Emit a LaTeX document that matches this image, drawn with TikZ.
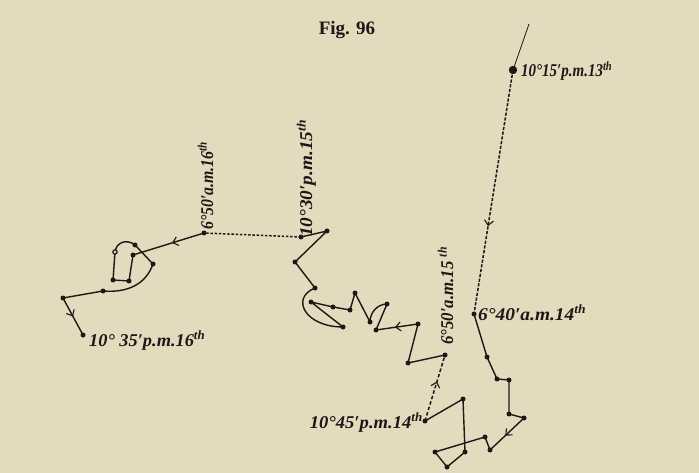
\documentclass[tikz,border=0pt]{standalone}
\usepackage{fontspec}
\setmainfont{Liberation Serif}
\usepackage{graphicx}
\usetikzlibrary{decorations.markings,arrows.meta}
\definecolor{paper}{RGB}{228,218,190}
\definecolor{ink}{RGB}{28,24,22}
\newcommand{\lbl}[2]{\resizebox{#1}{\height}{#2}}
\begin{document}
\begin{tikzpicture}[x=1pt,y=-1pt,
  trail/.style={draw=ink,line width=1.4pt,line join=round,line cap=round},
  dashtrail/.style={draw=ink,line width=1.5pt,dash pattern=on 3.2pt off 1.6pt},
  midarrow/.style={postaction={decorate,decoration={markings,
      mark=at position #1 with {\arrow{Straight Barb[length=5pt,width=9pt,line width=1.1pt]}}}}},
  lab/.style={font=\fontsize{18}{20}\selectfont\bfseries\itshape,text=ink,inner sep=0pt},
  vlab/.style={lab,rotate=90,anchor=base west}]
\useasboundingbox (0,0) rectangle (699,473);
\fill[paper] (0,0) rectangle (699,473);

% title
\node[font=\fontsize{19}{21}\selectfont\bfseries,text=ink,anchor=base,inner sep=0pt] (title) at (347,35) {Fig. 96};

% points, first day
\coordinate (t0) at (529,24);
\coordinate (a1) at (513,70);
\coordinate (a2) at (474,314);
\coordinate (a3) at (487,357);
\coordinate (a4) at (497,379);
\coordinate (a5) at (509,380);
\coordinate (a6) at (509,414);
\coordinate (a7) at (524,418);
\coordinate (a8) at (490,450);
\coordinate (a9) at (485,437);
\coordinate (a10) at (435,452);
\coordinate (a11) at (447,467);
\coordinate (a12) at (465,452);
\coordinate (a13) at (463,399);
\coordinate (a14) at (425,421);
% second part
\coordinate (b1) at (445,355);
\coordinate (b2) at (408,363);
\coordinate (b3) at (418,324);
\coordinate (b4) at (376,330);
\coordinate (b5) at (387,304);
\coordinate (b6) at (370,322);
\coordinate (b7) at (355,293);
\coordinate (b8) at (350,310);
\coordinate (b9) at (333,307);
\coordinate (b10) at (311,302);
\coordinate (b11) at (343,327);
\coordinate (b12) at (315,288);
\coordinate (b13) at (295,262);
\coordinate (b14) at (327,231);
\coordinate (b15) at (301,237);
% third part
\coordinate (c1) at (204,233);
\coordinate (c2) at (133,255);
\coordinate (c3) at (129,281);
\coordinate (c4) at (113,280);
\coordinate (c5) at (115,252);
\coordinate (c6) at (135,245);
\coordinate (c7) at (153,264);
\coordinate (c8) at (103,291);
\coordinate (c9) at (63,298);
\coordinate (c10) at (83,335);

% track
\draw[draw=ink,line width=0.8pt] (t0) -- (a1);
\draw[dashtrail,midarrow=0.64] (a1) -- (a2);
\draw[trail] (a2) -- (a3) -- (a4) -- (a5) -- (a6) -- (a7);
\draw[trail,midarrow=0.55] (a7) -- (a8);
\draw[trail] (a8) -- (a9) -- (a10) -- (a11) -- (a12) -- (a13) -- (a14);
\draw[draw=ink,line width=1.5pt,dash pattern=on 3.5pt off 2.2pt,midarrow=0.6] (a14) -- (b1);
\draw[trail] (b1) -- (b2) -- (b3);
\draw[trail,midarrow=0.55] (b3) -- (b4);
\draw[trail] (b4) -- (b5) .. controls (378,304) and (370,312) .. (b6) -- (b7) -- (b8) -- (b9) -- (b10) -- (b11)
   .. controls (305,327) and (290,298) .. (b12) -- (b13) -- (b14) -- (b15);
\draw[draw=ink,line width=1.5pt,dash pattern=on 2.4pt off 1.8pt] (b15) -- (c1);
\draw[trail,midarrow=0.45] (c1) -- (c2);
\draw[trail] (c2) -- (c3) -- (c4) -- (c5) .. controls (116,243) and (126,238) .. (c6) -- (c7)
   .. controls (146,284) and (128,293) .. (c8) -- (c9);
\draw[trail,midarrow=0.5] (c9) -- (c10);

% dots
\foreach \p in {a2,a3,a4,a5,a6,a7,a8,a9,a10,a11,a12,a13,a14,
                b1,b2,b3,b4,b5,b6,b7,b8,b9,b10,b11,b12,b13,b14,b15,
                c1,c2,c3,c4,c6,c7,c8,c9,c10}
  \fill[ink] (\p) circle (2.5pt);
\fill[ink] (a1) circle (4.2pt);
\filldraw[fill=paper,draw=ink,line width=1.2pt] (c5) circle (2.2pt);

% labels
\node[lab,anchor=base west] (l1) at (521,77) {\lbl{91pt}{10°15′p.m.13\textsuperscript{th}}};
\node[lab,anchor=base west] (l2) at (478,320) {\lbl{108pt}{6°40′a.m.14\textsuperscript{th}}};
\node[lab,anchor=base east] (l3) at (423,428) {\lbl{113pt}{10°45′p.m.14\textsuperscript{th}}};
\node[lab,anchor=base west] (l4) at (89,346) {\lbl{116pt}{10° 35′p.m.16\textsuperscript{th}}};
\node[vlab] (l5) at (213,230) {\lbl{88pt}{6°50′a.m.16\textsuperscript{th}}};
\node[vlab] (l6) at (312,237) {\lbl{117pt}{10°30′p.m.15\textsuperscript{th}}};
\node[vlab] (l7) at (453,345) {\lbl{98pt}{6°50′a.m.15 \textsuperscript{th}}};
\end{tikzpicture}
\end{document}
